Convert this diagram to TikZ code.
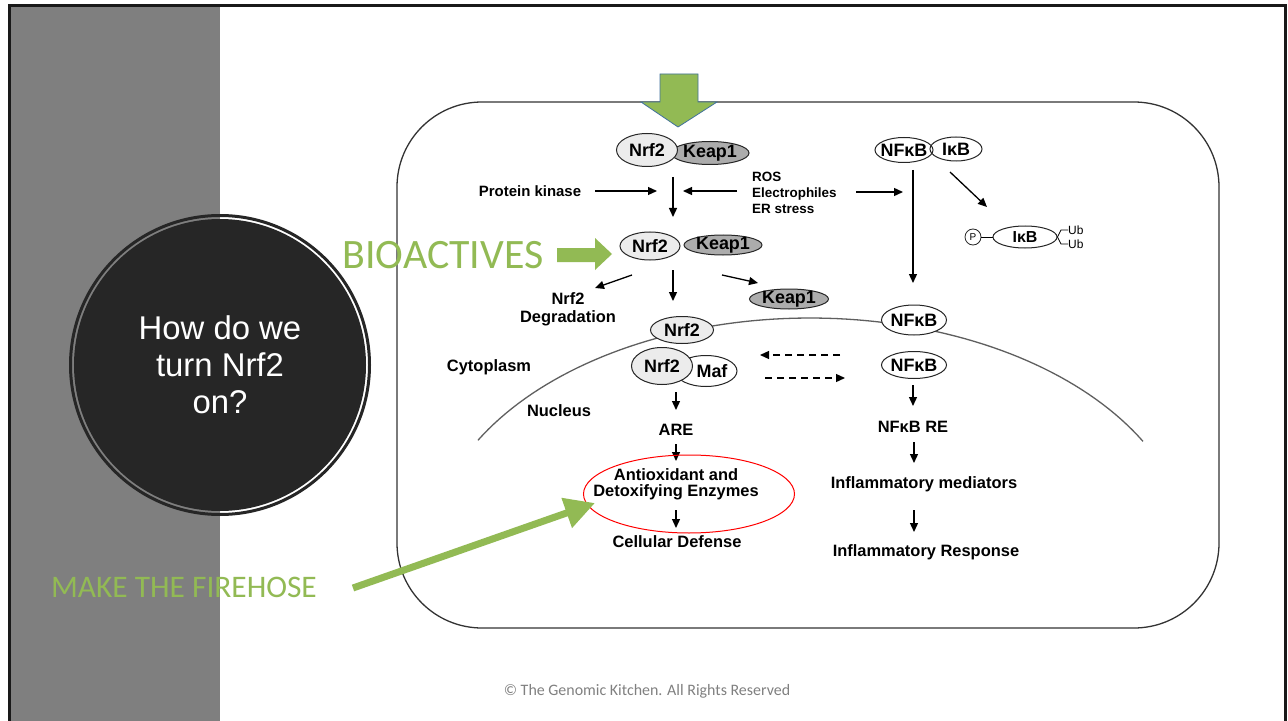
\documentclass[tikz,border=0pt]{standalone}
\usepackage{fontspec}
\setmainfont{Liberation Sans}
\newfontfamily\calfont{Carlito}
\usetikzlibrary{arrows.meta,shapes.geometric}
\definecolor{leaf}{RGB}{146,186,84}
\definecolor{panel}{RGB}{127,127,127}
\definecolor{disc}{RGB}{38,38,38}
\definecolor{lite}{RGB}{236,236,236}
\definecolor{keap}{RGB}{172,172,172}
\definecolor{edgeblue}{RGB}{65,113,156}
\definecolor{membrane}{RGB}{95,95,95}
\definecolor{copy}{RGB}{128,128,128}
\begin{document}
\begin{tikzpicture}[x=1bp,y=-1bp,
  lbl/.style={font=\fontsize{16.5}{18}\selectfont\bfseries, inner sep=0, align=center},
  smalllbl/.style={font=\fontsize{13.5}{16}\selectfont\bfseries, inner sep=0, align=left},
  pe/.style={ellipse, draw=black!85, line width=1bp, inner sep=0},
  ptxt/.style={font=\fontsize{18}{18}\selectfont\bfseries, inner sep=0},
  arr/.style={-{Triangle[length=9bp,width=8bp]}, line width=1.3bp},
  darr/.style={arr, dash pattern=on 7bp off 5bp},
  green/.style={font=\calfont, text=leaf, inner sep=0},
]
\useasboundingbox (0,0) rectangle (1288,721);
\fill[white] (0,0) rectangle (1288,721);
% side panel and slide frame
\fill[panel] (10,7) rectangle (220,721);
\draw[line width=3bp, black!90] (9.5,730) -- (9.5,6) -- (1285,6) -- (1285,730);

% question disc
\node[circle, fill=disc, minimum size=292bp, inner sep=0, text=white, align=center,
      font=\fontsize{33}{37}\selectfont] (q) at (220,365) {How do we\\turn Nrf2\\on?};
\draw[disc, line width=3bp] (q.center) circle (149.5);

% cell outline
\draw[black!80, line width=1.3bp, rounded corners=85bp] (397,102) rectangle (1219,628);

% nuclear membrane
\draw[membrane, line width=1.3bp] plot[domain=28.8:150.9, samples=80] ({810+380*cos(\x)},{556-238*sin(\x)});

% top complex
\node[pe, fill=keap, minimum width=78bp, minimum height=23bp, label={[ptxt]center:Keap1}] (keapA) at (710,153) {};
\node[pe, fill=lite, minimum width=61bp, minimum height=33bp, label={[ptxt]center:Nrf2}] (nrfA) at (647,150) {};

% top green arrow
\draw[fill=leaf, draw=edgeblue, line width=0.8bp] (660,74) -- (698,74) -- (698,102) -- (717,102) -- (678,127) -- (641,102) -- (660,102) -- cycle;

% signals
\node[lbl, font=\fontsize{15}{17}\selectfont\bfseries] (pk) at (530,191) {Protein kinase};
\node[smalllbl, anchor=west] (ros) at (752,193) {ROS\\Electrophiles\\ER stress};
\coordinate (a1s) at (673,177); \coordinate (a1e) at (673,217);
\coordinate (a2s) at (595,191); \coordinate (a2e) at (657,191);
\coordinate (a3s) at (737,191); \coordinate (a3e) at (683,191);
\coordinate (a4s) at (856,192); \coordinate (a4e) at (903,192);
\draw[arr] (a1s) -- (a1e);
\draw[arr] (a2s) -- (a2e);
\draw[arr] (a3s) -- (a3e);
\draw[arr] (a4s) -- (a4e);

% NFkB / IkB
\node[pe, minimum width=58bp, minimum height=25bp, label={[ptxt]center:NFκB}] (nfkbA) at (904,150) {};
\node[pe, minimum width=52bp, minimum height=24bp, label={[ptxt]center:IκB}] (ikbA) at (956,149) {};
\coordinate (a5s) at (913,170); \coordinate (a5e) at (913,283);
\coordinate (a6s) at (950,172); \coordinate (a6e) at (987,207);
\draw[arr] (a5s) -- (a5e);
\draw[arr] (a6s) -- (a6e);

% phosphorylated IkB
\node[circle, draw=black!85, line width=0.8bp, minimum size=16bp, inner sep=0, font=\fontsize{10}{10}\selectfont] (pp) at (973,237) {P};
\node[pe, fill=white, minimum width=64bp, minimum height=22bp, label={[ptxt, font=\fontsize{16}{16}\selectfont\bfseries]center:IκB}] (ikbB) at (1025,237) {};
\draw[line width=0.8bp] (pp) -- (ikbB);
\coordinate (ub1) at (1068,230); \coordinate (ub2) at (1068,244);
\draw[line width=0.8bp] (ub1) -- (1061,230) -- (ikbB.east) -- (1061,244) -- (ub2);
\node[anchor=west, inner sep=0, font=\fontsize{12}{12}\selectfont] (ubt1) at (ub1) {Ub};
\node[anchor=west, inner sep=0, font=\fontsize{12}{12}\selectfont] (ubt2) at (ub2) {Ub};

% second Nrf2 complex
\node[pe, fill=lite, minimum width=60bp, minimum height=28bp, label={[ptxt]center:Nrf2}] (nrfB) at (650,246) {};
\node[pe, fill=keap, minimum width=78bp, minimum height=20bp, label={[ptxt]center:Keap1}] (keapB) at (723,245) {};

% bioactives
\node[green, font=\fontsize{42}{42}\selectfont\calfont] (bio) at (443,255) {BIOACTIVES};
\fill[leaf] (557,248) -- (595,248) -- (595,238) -- (612,254) -- (595,270) -- (595,262) -- (557,262) -- cycle;

\coordinate (a7s) at (632,275); \coordinate (a7e) at (595,288);
\coordinate (a8s) at (673,270); \coordinate (a8e) at (673,301);
\coordinate (a9s) at (722,275); \coordinate (a9e) at (758,283);
\draw[arr] (a7s) -- (a7e);
\draw[arr] (a8s) -- (a8e);
\draw[arr] (a9s) -- (a9e);
\node[lbl] (deg) at (568,309) {Nrf2\\Degradation};
\node[pe, fill=keap, minimum width=79bp, minimum height=20bp, label={[ptxt]center:Keap1}] (keapC) at (789,299) {};

% membrane proteins
\node[pe, fill=lite, minimum width=63bp, minimum height=27bp, label={[ptxt]center:Nrf2}] (nrfC) at (682,330) {};
\node[pe, fill=white, minimum width=65bp, minimum height=30bp, label={[ptxt]center:NFκB}] (nfkbB) at (914,320) {};

% nucleus
\node[pe, fill=white, minimum width=62bp, minimum height=31bp, label={[ptxt, xshift=6bp]center:Maf}] (maf) at (706,371) {};
\node[pe, fill=lite, minimum width=61bp, minimum height=37bp, label={[ptxt]center:Nrf2}] (nrfD) at (662,366) {};
\node[pe, fill=white, minimum width=65bp, minimum height=27bp, label={[ptxt]center:NFκB}] (nfkbC) at (914,365) {};

\coordinate (d1s) at (840,355); \coordinate (d1e) at (760,355);
\coordinate (d2s) at (765,378); \coordinate (d2e) at (845,378);
\draw[darr] (d1s) -- (d1e);
\draw[darr] (d2s) -- (d2e);

\node[lbl] (cyto) at (489,367) {Cytoplasm};
\node[lbl] (nuc) at (559,411) {Nucleus};

\node[lbl] (are) at (676,430) {ARE};
\node[lbl, font=\fontsize{16.5}{16}\selectfont\bfseries] (enz) at (676,484) {Antioxidant and\\Detoxifying Enzymes};
\node[lbl] (def) at (677,542) {Cellular Defense};
\coordinate (a12s) at (676,392); \coordinate (a12e) at (676,410);
\coordinate (a13s) at (676,444); \coordinate (a13e) at (676,461);
\coordinate (a14s) at (676,510); \coordinate (a14e) at (676,528);
\draw[arr] (a12s) -- (a12e);
\draw[arr] (a13s) -- (a13e);
\draw[arr] (a14s) -- (a14e);

\node[lbl] (re) at (913,427) {NFκB RE};
\node[lbl] (med) at (924,484) {Inflammatory mediators};
\node[lbl] (resp) at (926,552) {Inflammatory Response};
\coordinate (a15s) at (913,385); \coordinate (a15e) at (913,406);
\coordinate (a16s) at (914,442); \coordinate (a16e) at (914,463);
\coordinate (a17s) at (914,510); \coordinate (a17e) at (914,532);
\draw[arr] (a15s) -- (a15e);
\draw[arr] (a16s) -- (a16e);
\draw[arr] (a17s) -- (a17e);

% red highlight
\node[ellipse, draw=red, line width=1bp, minimum width=211bp, minimum height=78bp, inner sep=0] (hl) at (689,494) {};

% firehose
\node[green, font=\fontsize{31.5}{32}\selectfont\calfont] (fh) at (184,587) {MAKE THE FIREHOSE};
\coordinate (fhs) at (353,588);
\coordinate (fhe) at (595,503);
\draw[leaf, line width=7bp, -{Triangle[length=30bp,width=30bp]}] (fhs) -- (fhe);

% footer
\node[inner sep=0, text=copy, font=\fontsize{16}{16}\selectfont\calfont] (foot) at (647,691) {© The Genomic Kitchen. All Rights Reserved};
\end{tikzpicture}
\end{document}
